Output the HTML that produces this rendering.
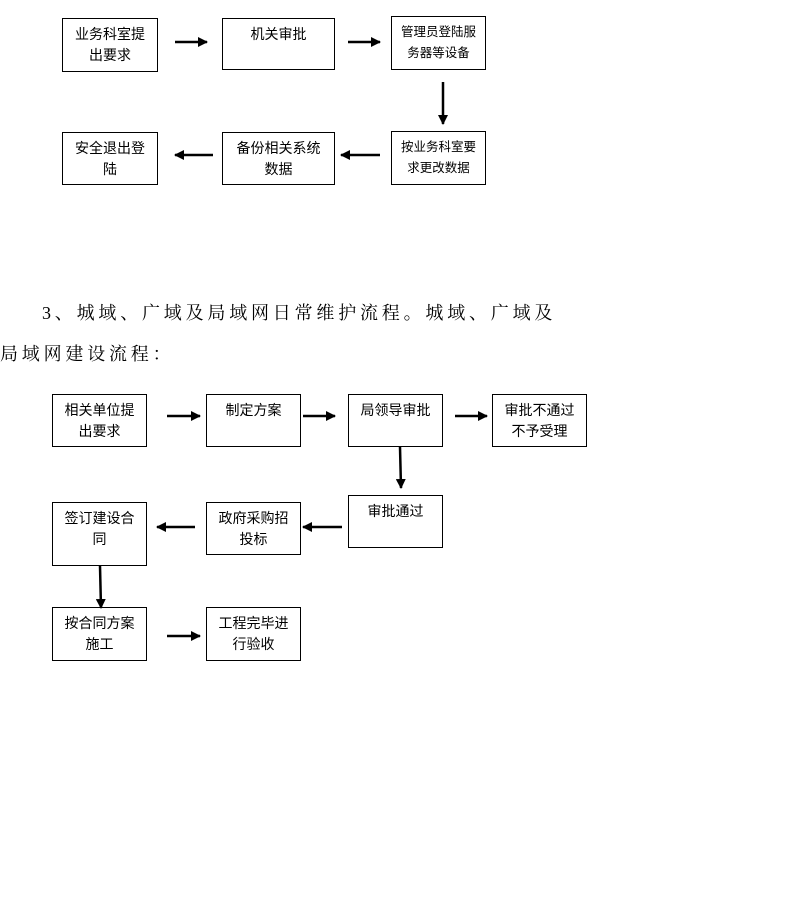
<!DOCTYPE html>
<html><head><meta charset="utf-8"><style>
body{margin:0;width:786px;height:915px;background:#fff;position:relative;overflow:hidden;font-family:"Liberation Sans","Noto Sans CJK SC",sans-serif;}
.b{position:absolute;border:1px solid #000;box-sizing:border-box;text-align:center;font-size:14px;line-height:21px;padding-top:5px;color:#000;}
.s{font-size:12.5px;}
.t{position:absolute;font-family:"Liberation Serif","Noto Serif CJK SC",serif;font-size:18px;letter-spacing:3.8px;white-space:nowrap;color:#000;line-height:20px;}
svg{position:absolute;left:0;top:0;}
</style></head><body>
<div class="b" style="left:62px;top:18px;width:96px;height:54px;">业务科室提<br>出要求</div>
<div class="b" style="left:222px;top:18px;width:113px;height:52px;">机关审批</div>
<div class="b s" style="left:391px;top:16px;width:95px;height:54px;">管理员登陆服<br>务器等设备</div>
<div class="b" style="left:62px;top:132px;width:96px;height:53px;">安全退出登<br>陆</div>
<div class="b" style="left:222px;top:132px;width:113px;height:53px;">备份相关系统<br>数据</div>
<div class="b s" style="left:391px;top:131px;width:95px;height:54px;">按业务科室要<br>求更改数据</div>

<div class="t" style="left:42px;top:303px;">3、城域、广域及局域网日常维护流程。城域、广域及</div>
<div class="t" style="left:0px;top:344px;">局域网建设流程：</div>

<div class="b" style="left:52px;top:394px;width:95px;height:53px;">相关单位提<br>出要求</div>
<div class="b" style="left:206px;top:394px;width:95px;height:53px;">制定方案</div>
<div class="b" style="left:348px;top:394px;width:95px;height:53px;">局领导审批</div>
<div class="b" style="left:492px;top:394px;width:95px;height:53px;">审批不通过<br>不予受理</div>
<div class="b" style="left:348px;top:495px;width:95px;height:53px;">审批通过</div>
<div class="b" style="left:206px;top:502px;width:95px;height:53px;">政府采购招<br>投标</div>
<div class="b" style="left:52px;top:502px;width:95px;height:64px;">签订建设合<br>同</div>
<div class="b" style="left:52px;top:607px;width:95px;height:54px;">按合同方案<br>施工</div>
<div class="b" style="left:206px;top:607px;width:95px;height:54px;">工程完毕进<br>行验收</div>

<svg width="786" height="915">
<defs><marker id="a" markerWidth="10" markerHeight="10" refX="9" refY="5" orient="auto" markerUnits="userSpaceOnUse"><path d="M0,0 L10,5 L0,10 z" fill="#000"/></marker></defs>
<g stroke="#000" stroke-width="2.5" marker-end="url(#a)">
<line x1="175" y1="42" x2="207" y2="42"/>
<line x1="348" y1="42" x2="380" y2="42"/>
<line x1="443" y1="82" x2="443" y2="124"/>
<line x1="213" y1="155" x2="175" y2="155"/>
<line x1="380" y1="155" x2="341" y2="155"/>
<line x1="167" y1="416" x2="200" y2="416"/>
<line x1="303" y1="416" x2="335" y2="416"/>
<line x1="455" y1="416" x2="487" y2="416"/>
<line x1="400" y1="447" x2="401" y2="488"/>
<line x1="342" y1="527" x2="303" y2="527"/>
<line x1="195" y1="527" x2="157" y2="527"/>
<line x1="100" y1="566" x2="101" y2="608"/>
<line x1="167" y1="636" x2="200" y2="636"/>
</g></svg>
</body></html>
